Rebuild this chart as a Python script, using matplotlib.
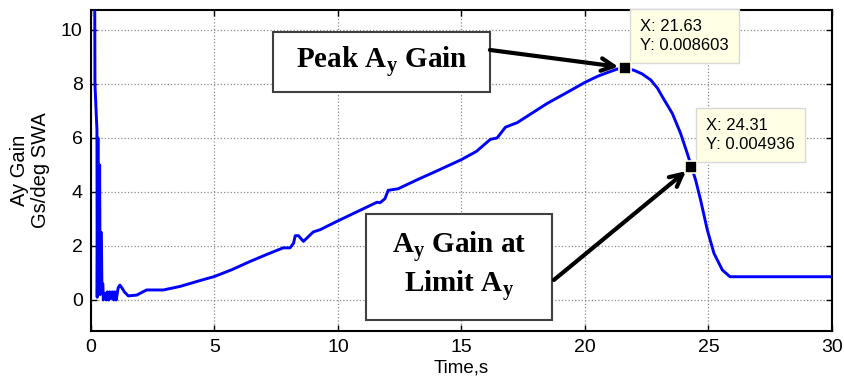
import numpy as np
import matplotlib.pyplot as plt
from matplotlib.patches import Rectangle

# Ay gain trace, gain shown x1000
time_s = [0.15, 0.16, 0.24, 0.25, 0.28, 0.30, 0.35, 0.37, 0.38, 0.42,
          0.44, 0.48, 0.50, 0.58, 0.62, 0.66, 0.72, 0.76, 0.80, 0.86,
          0.92, 0.96, 1.02, 1.10, 1.17, 1.25, 1.35, 1.51, 1.85, 2.25,
          2.93, 3.6, 4.42, 5.0, 5.7, 6.45, 7.1, 7.78, 8.06, 8.2,
          8.27, 8.4, 8.6, 9.0, 9.27, 10.0, 10.8, 11.58, 11.7, 11.9,
          12.03, 12.44, 13.2, 14.1, 15.0, 15.6, 16.17, 16.44, 16.78, 17.26,
          18.47, 19.3, 20.0, 20.5, 20.9, 21.3, 21.63, 22.0, 22.3, 22.66,
          22.93, 23.13, 23.54, 23.87, 24.14, 24.31, 24.48, 24.68, 24.95, 25.22,
          25.56, 25.87, 26.2, 28.0, 30.0]
gain = [11.5, 8.0, 6.3, 0.1, 6.0, 0.3, 5.0, 0.2, 2.5, 2.5,
        0.6, 0.6, 0.0, 0.25, 0.0, 0.3, 0.0, 0.3, 0.05, 0.3,
        0.0, 0.3, 0.0, 0.45, 0.55, 0.45, 0.3, 0.15, 0.18, 0.37,
        0.37, 0.5, 0.72, 0.87, 1.12, 1.43, 1.68, 1.93, 1.93, 2.1,
        2.38, 2.38, 2.17, 2.52, 2.6, 2.93, 3.28, 3.62, 3.6, 3.75,
        4.06, 4.12, 4.45, 4.82, 5.2, 5.5, 5.95, 6.0, 6.4, 6.57,
        7.28, 7.7, 8.06, 8.28, 8.42, 8.55, 8.603, 8.5, 8.38, 8.15,
        7.85, 7.53, 6.9, 6.17, 5.43, 4.936, 4.44, 3.7, 2.6, 1.73,
        1.11, 0.86, 0.86, 0.86, 0.86]

tip_t = [21.63, 24.31]
tip_gain = [8.603, 4.936]
tip_y_text = ['0.008603', '0.004936']

plt.rcParams['mathtext.fontset'] = 'custom'
plt.rcParams['mathtext.bf'] = 'Liberation Serif:bold'
plt.rcParams['mathtext.rm'] = 'Liberation Serif:bold'

fig = plt.figure(figsize=(8.45, 3.88), dpi=100)
ax = fig.add_axes([91/845, (388-331)/388, (832-91)/845, (331-10)/388])

ax.plot(time_s, gain, color='#0000ff', lw=2.1, zorder=3)
ax.plot(tip_t, tip_gain, ls='none', marker='s', ms=9, mfc='black',
        mec='#ffffe0', mew=1.2, zorder=7)

ax.set_xlim(0, 30)
ax.set_ylim(-1.15, 10.74)
ax.set_xticks(range(0, 31, 5))
ax.set_yticks(range(0, 11, 2))
ax.grid(True, color='#8c8c8c', ls=':', lw=0.9)
ax.tick_params(direction='in', top=True, right=True, length=4,
               labelsize=14, width=1, pad=6)
for lab in ax.get_xticklabels() + ax.get_yticklabels():
    lab.set_family('Liberation Sans')
for s in ax.spines.values():
    s.set_linewidth(1.5)

ax.set_xlabel('Time,s', family='Liberation Sans', fontsize=13.5, labelpad=2)
ax.set_ylabel('Ay Gain\nGs/deg SWA', family='Liberation Sans', fontsize=14.5,
              labelpad=8, linespacing=1.1)

# data tips
for t, g, ys in zip(tip_t, tip_gain, tip_y_text):
    ax.annotate(f'X: {t:.2f}\nY: {ys}', xy=(t, g), xytext=(15, 15),
                textcoords='offset pixels', ha='left', va='bottom',
                family='Liberation Sans', fontsize=12, linespacing=1.3,
                bbox=dict(boxstyle='square,pad=0.6', fc='#ffffe6',
                          ec='#d8d8d8', lw=1), zorder=6, annotation_clip=False)

# callout boxes with arrows
for x0, x1, y0, y1 in [(7.37, 16.15, 7.70, 9.93), (11.13, 18.66, -0.74, 3.19)]:
    ax.add_patch(Rectangle((x0, y0), x1 - x0, y1 - y0, fc='white',
                           ec='#404040', lw=1.5, zorder=4))
ax.text(11.76, 8.81, r'Peak A$_\mathbf{y}$ Gain', ha='center', va='center',
        family='Liberation Serif', weight='bold', fontsize=21, zorder=5)
ax.text(14.9, 1.22, 'A$_\\mathbf{y}$ Gain at\nLimit A$_\\mathbf{y}$',
        ha='center', va='center', family='Liberation Serif', weight='bold',
        fontsize=21, linespacing=1.15, zorder=5)

arrow = dict(arrowstyle='->,head_length=0.9,head_width=0.45', color='black',
             lw=3, shrinkA=0, shrinkB=5)
ax.annotate('', xy=(tip_t[0], tip_gain[0]), xytext=(16.15, 9.26),
            arrowprops=arrow, zorder=5)
ax.annotate('', xy=(tip_t[1], tip_gain[1]), xytext=(18.74, 0.74),
            arrowprops=arrow, zorder=5)

fig.savefig('out.png', dpi=100)
